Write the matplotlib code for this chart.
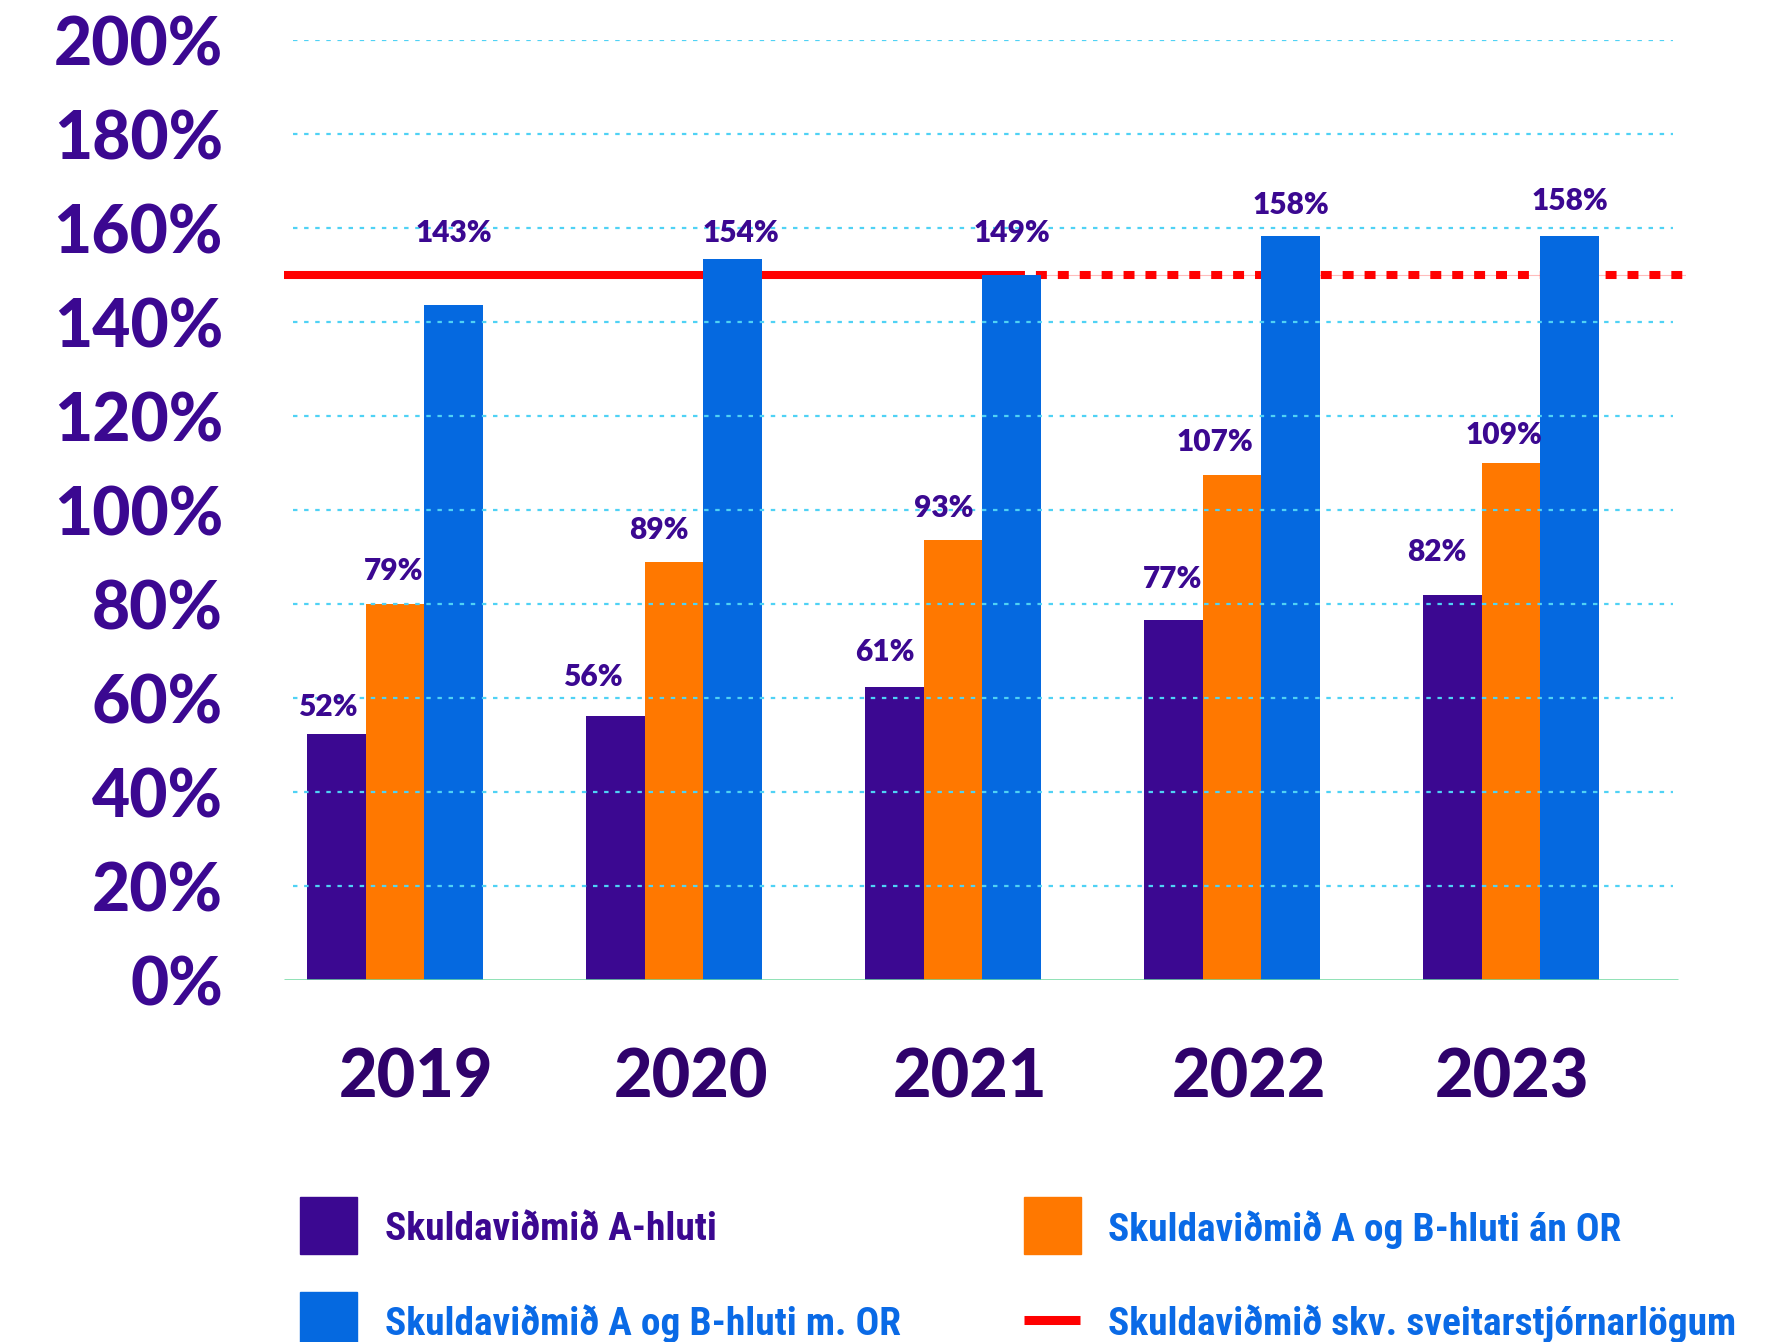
import matplotlib
matplotlib.use("Agg")
import matplotlib.pyplot as plt
from matplotlib import font_manager
from matplotlib.patches import Rectangle
from matplotlib.lines import Line2D
import numpy as np

# ---------------- data ----------------
years = ["2019", "2020", "2021", "2022", "2023"]
series_names = ["Skuldaviðmið A-hluti",
                "Skuldaviðmið A og B-hluti án OR",
                "Skuldaviðmið A og B-hluti m. OR"]
a_hluti = [52.4, 56.1, 62.4, 76.5, 82.0]
ab_an_or = [80.0, 88.9, 93.6, 107.4, 110.0]
ab_m_or = [143.6, 153.4, 150.0, 158.4, 158.4]
a_labels = ["52%", "56%", "61%", "77%", "82%"]
b_labels = ["79%", "89%", "93%", "107%", "109%"]
c_labels = ["143%", "154%", "149%", "158%", "158%"]
limit_name = "Skuldaviðmið skv. sveitarstjórnarlögum"
limit_value = 150
yticks = [0, 20, 40, 60, 80, 100, 120, 140, 160, 180, 200]
ytick_labels = [f"{v}%" for v in yticks]

# ---------------- style ----------------
PURPLE = "#3b0891"
ORANGE = "#ff7800"
BLUE = "#0569e0"
RED = "#ff0000"
GRID = "#4fd2f5"
BASE = "#6fd9a0"
YEARCOL = "#2f026b"
LEGBLUE = "#0a6ae6"


def pick(fams):
    for f in fams:
        try:
            font_manager.findfont(font_manager.FontProperties(family=f), fallback_to_default=False)
            return f
        except Exception:
            continue
    return "DejaVu Sans"


MAIN = pick(["Lato", "Inter", "Open Sans"])
NARROW = pick(["Liberation Sans Narrow", "Roboto Condensed", "Liberation Sans"])

W, H = 1788, 1342
fig = plt.figure(figsize=(W / 100, H / 100), dpi=100)
ax = fig.add_axes([284 / W, 362 / H, 1402 / W, 940 / H])
ax.set_xlim(-0.398, 4.627)
ax.set_ylim(0, 200)
for s in ax.spines.values():
    s.set_visible(False)

x = np.arange(len(years))
bw = 0.21
series = [a_hluti, ab_an_or, ab_m_or]
colors = [PURPLE, ORANGE, BLUE]
labels = [a_labels, b_labels, c_labels]
# label offsets in points (dx, dy above bar top)
lab_dx = [[-6, -16, -7, -1, -11], [-1, -11, -7, -12, -5], [0, 6, 0, 0, 0]]
lab_dy = [[19, 28, 25, 30, 31], [24, 23, 23, 24, 20], [52, 19, 30, 22, 25]]

for i, (vals, c) in enumerate(zip(series, colors)):
    pos = x + (i - 1) * bw
    ax.bar(pos, vals, width=bw, color=c, zorder=3, linewidth=0)
    for j, (p, v) in enumerate(zip(pos, vals)):
        ax.annotate(labels[i][j], (p, v), xytext=(lab_dx[i][j], lab_dy[i][j]),
                    textcoords="offset points", ha="center", va="center",
                    fontsize=21.5, fontweight="heavy", family=MAIN, color=PURPLE,
                    zorder=6, annotation_clip=False)

# grid lines (dashed, on top of bars)
ax.hlines(yticks[1:], -0.366, 4.58, colors=GRID, linewidth=1.6,
          linestyles=(0, (2.0, 3.0)), zorder=4)
# baseline
ax.hlines(0, -0.398, 4.60, colors=BASE, linewidth=1.8, zorder=5)

# limit line: solid then dotted
split = 2.22
ax.plot([-0.398, split], [limit_value, limit_value], color=RED, lw=5.8,
        solid_capstyle="butt", zorder=2)
ax.plot([split, 4.627], [limit_value, limit_value], color="#ffbcbc", lw=0.8, zorder=1.9)
ax.plot([split, 4.627], [limit_value, limit_value], color=RED, lw=5.8,
        linestyle=(0, (1.36, 1.36)), dash_capstyle="butt", zorder=2)

# y ticks
ax.set_yticks(yticks)
ax.set_yticklabels(ytick_labels)
ax.tick_params(axis="y", length=0, pad=44, labelsize=47.5, labelcolor=PURPLE)
for t in ax.get_yticklabels():
    t.set_fontfamily(MAIN)
    t.set_fontweight("black")
ax.set_xticks([])

# year labels
year_dx = [15, 12, 12, 12, 1]
for xi, yr, dx in zip(x, years, year_dx):
    ax.annotate(yr, (xi, 0), xytext=(dx, -71), textcoords="offset points",
                ha="center", va="center", fontsize=48, fontweight="black",
                family=MAIN, color=YEARCOL, annotation_clip=False)

# ---------------- legend (manual) ----------------
pw, ph = 57 / W, 57 / H
fig.patches.append(Rectangle((300 / W, (H - 1254) / H), pw, ph, color=PURPLE,
                             transform=fig.transFigure, figure=fig))
fig.patches.append(Rectangle((1024 / W, (H - 1254) / H), pw, ph, color=ORANGE,
                             transform=fig.transFigure, figure=fig))
fig.patches.append(Rectangle((300 / W, (H - 1349) / H), pw, ph, color=BLUE,
                             transform=fig.transFigure, figure=fig))
fig.lines.append(Line2D([1024 / W, 1080 / W], [(H - 1320) / H] * 2, color=RED,
                        lw=6.5, solid_capstyle="butt", transform=fig.transFigure,
                        figure=fig))
leg_items = [(385, 1226, series_names[0], PURPLE),
             (1108, 1226, series_names[1], LEGBLUE),
             (385, 1320, series_names[2], LEGBLUE),
             (1108, 1320, limit_name, LEGBLUE)]
for lx, ly, txt, col in leg_items:
    fig.text(lx / W, (H - ly) / H, txt, ha="left", va="center_baseline",
             fontsize=28.4, fontweight="bold", family=NARROW, color=col)

fig.savefig("out.png", dpi=100)
